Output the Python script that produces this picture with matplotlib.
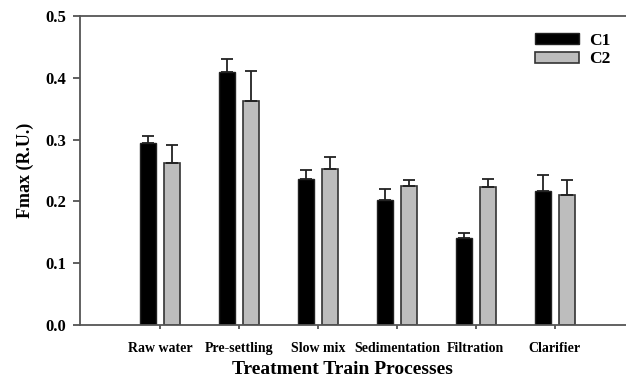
import numpy as np
import matplotlib
matplotlib.use("Agg")
from matplotlib import pyplot as plt

categories = ["Raw water", "Pre-settling", "Slow mix", "Sedimentation", "Filtration", "Clarifier"]
c1 = [0.294, 0.410, 0.236, 0.202, 0.140, 0.216]
c1_err = [0.011, 0.020, 0.015, 0.018, 0.009, 0.027]
c2 = [0.262, 0.362, 0.252, 0.225, 0.223, 0.210]
c2_err = [0.029, 0.049, 0.020, 0.010, 0.013, 0.025]
yticks = [0.0, 0.1, 0.2, 0.3, 0.4, 0.5]

plt.rcParams['font.family'] = ['Liberation Serif', 'DejaVu Serif']

fig = plt.figure(figsize=(6.26, 3.79), dpi=100)
ax = fig.add_axes([0.128, 0.1425, 0.872, 0.8155])

x = np.arange(len(categories))
width = 0.2
off = 0.15
ax.bar(x - off, c1, width, color='black', edgecolor='#222222', linewidth=1, label='C1',
       yerr=[np.zeros(len(c1)), c1_err], error_kw=dict(ecolor='#222222', elinewidth=1.3, capsize=4, capthick=1.3))
ax.bar(x + off, c2, width, color='#bdbdbd', edgecolor='#333333', linewidth=1.2, label='C2',
       yerr=[np.zeros(len(c2)), c2_err], error_kw=dict(ecolor='#222222', elinewidth=1.3, capsize=4, capthick=1.3))

ax.set_xlim(-1.01, 5.9)
ax.set_ylim(0, 0.5)
ax.set_yticks(yticks)
ax.set_yticklabels(["%.1f" % t for t in yticks], fontweight='bold', fontsize=12)
ax.set_xticks(x)
ax.set_xticklabels(categories, fontweight='bold', fontsize=10)
ax.tick_params(axis='x', length=3, width=1.2, color='#444444', pad=9)
ax.tick_params(axis='y', length=5, width=1.2, color='#444444', pad=5)

ax.spines['right'].set_visible(False)
for s in ['left', 'bottom', 'top']:
    ax.spines[s].set_color('#555555')
    ax.spines[s].set_linewidth(1.3)

ax.set_ylabel("Fmax (R.U.)", fontsize=13, fontweight='bold', labelpad=8)
ax.set_xlabel("Treatment Train Processes", fontsize=14, fontweight='bold')
ax.xaxis.set_label_coords(0.48, -0.118)

leg = ax.legend(loc='upper right', bbox_to_anchor=(1.0, 0.995), frameon=False,
                prop={'weight': 'bold', 'size': 12.5}, handlelength=2.5, handleheight=0.6,
                labelspacing=0.12, handletextpad=0.6)

plt.savefig("out.png", dpi=100)
